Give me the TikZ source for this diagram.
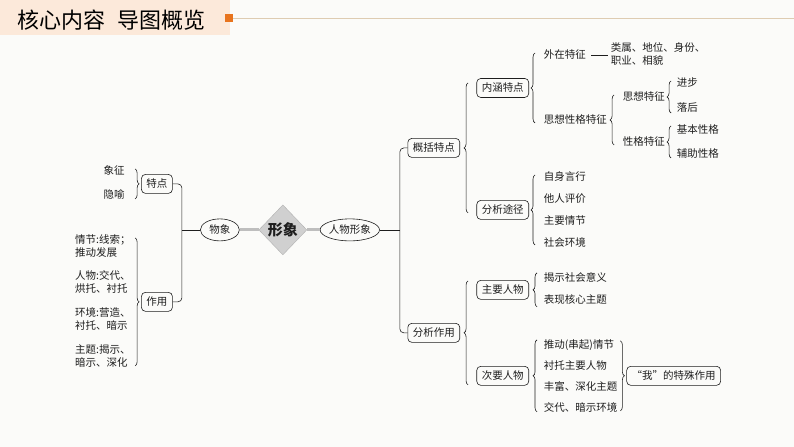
\documentclass[tikz,border=0pt]{standalone}
\usepackage{fontspec}
\setmainfont{Noto Sans CJK SC}
\usepackage{xcolor}
\usepackage{tikz}
\usetikzlibrary{
  shapes.geometric,
  positioning,
  decorations.pathreplacing,
  calc
}
\definecolor{InkBlack}{RGB}{30,30,30}
\definecolor{PaperWhite}{RGB}{251,251,249}
\definecolor{HeadPeach}{RGB}{252,233,218}
\definecolor{HeadOrange}{RGB}{232,116,30}
\definecolor{HeadLine}{RGB}{222,204,178}
\definecolor{CoreGray}{RGB}{208,208,208}
\definecolor{LinkGray}{RGB}{190,190,190}
\newcommand{\mainsize}{\fontsize{10.5}{13}\selectfont}
\tikzset{
  %%── 节点 ─────────────────────────────────────────────
  topic/.style = {
    rectangle, rounded corners = 4pt,
    draw = InkBlack, line width = 0.6pt,
    inner xsep = 5pt, inner ysep = 0pt,
    minimum height = 19pt, font = \mainsize, text = InkBlack
  },
  oval/.style = {
    ellipse, draw = InkBlack, line width = 0.6pt,
    inner sep = 0pt, minimum height = 22pt,
    font = \mainsize, text = InkBlack
  },
  core/.style = {
    diamond, draw = CoreGray!85!black, fill = CoreGray,
    minimum width = 48pt, minimum height = 50pt, inner sep = 0pt,
    font = \fontsize{15}{17}\selectfont\bfseries, text = InkBlack
  },
  leaf/.style  = {inner sep = 1pt, anchor = west, font = \mainsize, text = InkBlack},
  leafR/.style = {inner sep = 1pt, anchor = east, font = \mainsize, text = InkBlack},
  multi/.style = {leaf, align = left},
  %%── 连线 ─────────────────────────────────────────────
  brc/.style  = {decorate, decoration = {brace, amplitude = 4pt}, line width = 0.6pt, draw = InkBlack},
  link/.style = {line width = 0.6pt, draw = InkBlack},
  bar/.style  = {link, rounded corners = 4pt},
  thk/.style  = {line width = 3pt, draw = LinkGray},
}

\begin{document}
\begin{tikzpicture}[x = 1pt, y = -1pt]
  \fill[PaperWhite] (0,0) rectangle (794,447);
  %%── 标题栏 ──
  \fill[HeadPeach] (0,0) rectangle (230,35);
  \draw[HeadLine, line width = 0.8pt] (233,18.5) -- (794,18.5);
  \fill[HeadOrange] (225,14) rectangle (233,22);
  \node[anchor = west, inner sep = 0pt, font = \fontsize{22}{24}\selectfont, text = black] (ttl)
    at (17,20) {核心内容\hspace{12pt}导图概览};

  %%── 中心 ──
  \node[core] (xing) at (283,230) {形象};
  \node[oval, minimum width = 39pt] (wuxiang) at (220,230) {物象};
  \node[oval, minimum width = 55pt] (renwu) at (350,230) {人物形象};
  \draw[thk] (wuxiang.east) -- (xing.west);
  \draw[thk] (xing.east) -- (renwu.west);

  %%── 左侧：物象 ──
  \coordinate (lbar) at (182,230);
  \node[topic] (tedian)  at (157,184) {特点};
  \node[topic] (zuoyong) at (157,302) {作用};
  \draw[link] (wuxiang.west) -- (lbar);
  \draw[bar] (tedian.east) -| (lbar) |- (zuoyong.east);

  \node[leafR] (xiangzheng) at (126,171) {象征};
  \node[leafR] (yinyu)      at (126,195) {隐喻};
  \draw[brc] ([xshift=-6pt,yshift=15pt]tedian.west) -- ([xshift=-6pt,yshift=-15pt]tedian.west);

  \node[multi] (qingjie)  at (74,246) {情节:线索；\\推动发展};
  \node[multi] (renwuzy)  at (74,282) {人物:交代、\\烘托、衬托};
  \node[multi] (huanjing) at (74,319) {环境:营造、\\衬托、暗示};
  \node[multi] (zhuti)    at (74,356) {主题:揭示、\\暗示、深化};
  \draw[brc] ([xshift=-6pt,yshift=64pt]zuoyong.west) -- ([xshift=-6pt,yshift=-64pt]zuoyong.west);

  %%── 右侧：人物形象 ──
  \coordinate (rbar) at (400,230);
  \node[topic] (gaikuo) at (434,148) {概括特点};
  \node[topic] (fenxi)  at (434,333) {分析作用};
  \draw[link] (renwu.east) -- (rbar);
  \draw[bar] (gaikuo.west) -| (rbar) |- (fenxi.west);

  \node[topic] (neihan) at (503,88)  {内涵特点};
  \node[topic] (tujing) at (503,210) {分析途径};
  \draw[brc] ([xshift=8pt,yshift=-65pt]gaikuo.east) -- ([xshift=8pt,yshift=65pt]gaikuo.east);

  \node[leaf] (waizai)  at (543,55)  {外在特征};
  \node[leaf] (sixiang) at (543,120) {思想性格特征};
  \draw[brc] ([xshift=6pt,yshift=-35pt]neihan.east) -- ([xshift=6pt,yshift=35pt]neihan.east);
  \node[multi] (leibie) at (610,54) {类属、地位、身份、\\职业、相貌};
  \draw[link, shorten <= 4pt, shorten >= 2pt] (waizai.east) -- (leibie.west |- waizai.east);

  \node[leaf] (sxtz) at (622,97)  {思想特征};
  \node[leaf] (xgtz) at (622,142) {性格特征};
  \draw[brc] ([xshift=6pt,yshift=-25pt]sixiang.east) -- ([xshift=6pt,yshift=25pt]sixiang.east);
  \node[leaf] (jinbu)  at (676,83)  {进步};
  \node[leaf] (luohou) at (676,108) {落后};
  \draw[brc] ([xshift=5pt,yshift=-16pt]sxtz.east) -- ([xshift=5pt,yshift=16pt]sxtz.east);
  \node[leaf] (jiben) at (676,130) {基本性格};
  \node[leaf] (fuzhu) at (676,154) {辅助性格};
  \draw[brc] ([xshift=5pt,yshift=-16pt]xgtz.east) -- ([xshift=5pt,yshift=16pt]xgtz.east);

  \node[leaf] (zishen)  at (543,177) {自身言行};
  \node[leaf] (taren)   at (543,199) {他人评价};
  \node[leaf] (zhuqing) at (543,221) {主要情节};
  \node[leaf] (shehui)  at (543,243) {社会环境};
  \draw[brc] ([xshift=6pt,yshift=-35pt]tujing.east) -- ([xshift=6pt,yshift=35pt]tujing.east);

  \node[topic] (zhuyao) at (503,290) {主要人物};
  \node[topic] (ciyao)  at (503,376) {次要人物};
  \draw[brc] ([xshift=8pt,yshift=-52pt]fenxi.east) -- ([xshift=8pt,yshift=52pt]fenxi.east);

  \node[leaf] (jieshi)   at (543,278) {揭示社会意义};
  \node[leaf] (biaoxian) at (543,300) {表现核心主题};
  \draw[brc] ([xshift=8pt,yshift=-17pt]zhuyao.east) -- ([xshift=8pt,yshift=17pt]zhuyao.east);

  \node[leaf] (tuidong) at (543,345) {推动(串起)情节};
  \node[leaf] (chentuo) at (543,366) {衬托主要人物};
  \node[leaf] (fengfu)  at (543,387) {丰富、深化主题};
  \node[leaf] (jiaodai) at (543,408) {交代、暗示环境};
  \draw[brc] ([xshift=8pt,yshift=-36pt]ciyao.east) -- ([xshift=8pt,yshift=36pt]ciyao.east);

  \node[topic] (wo) at (674,376) {“我”的特殊作用};
  \draw[brc] ([xshift=-6pt,yshift=35pt]wo.west) -- ([xshift=-6pt,yshift=-35pt]wo.west);
\end{tikzpicture}
\end{document}
